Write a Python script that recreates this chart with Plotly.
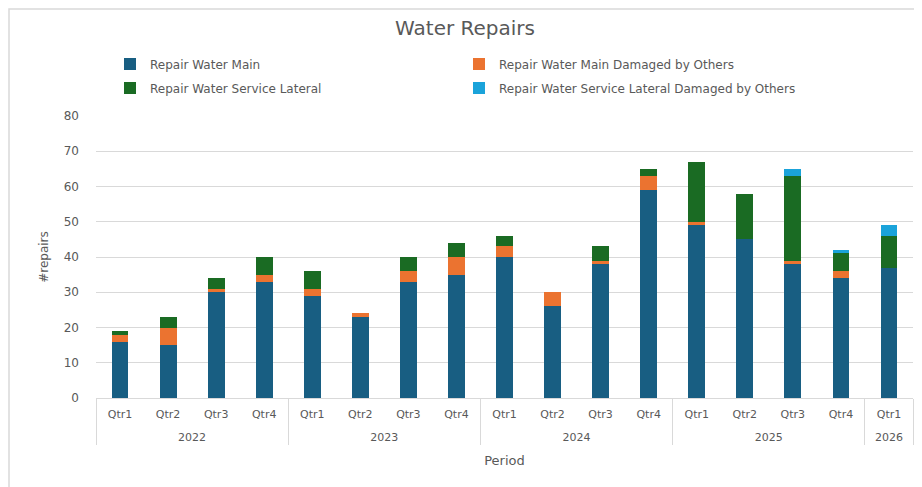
import plotly.graph_objects as go

years = ["2022"] * 4 + ["2023"] * 4 + ["2024"] * 4 + ["2025"] * 4 + ["2026"]
quarters = ["Qtr1", "Qtr2", "Qtr3", "Qtr4"] * 4 + ["Qtr1"]

water_main = [16, 15, 30, 33, 29, 23, 33, 35, 40, 26, 38, 59, 49, 45, 38, 34, 37]
main_damaged = [2, 5, 1, 2, 2, 1, 3, 5, 3, 4, 1, 4, 1, 0, 1, 2, 0]
service_lateral = [1, 3, 3, 5, 5, 0, 4, 4, 3, 0, 4, 2, 17, 13, 24, 5, 9]
lateral_damaged = [0, 0, 0, 0, 0, 0, 0, 0, 0, 0, 0, 0, 0, 0, 2, 1, 3]

series = [
    ("Repair Water Main", water_main, "#185E82", "legend"),
    ("Repair Water Main Damaged by Others", main_damaged, "#EB7330", "legend"),
    ("Repair Water Service Lateral", service_lateral, "#1A6B23", "legend2"),
    ("Repair Water Service Lateral Damaged by Others", lateral_damaged, "#1AA3DA", "legend2"),
]

# empty second line under each quarter pushes the year row further down
qlabels = [q + "<br> " for q in quarters]

fig = go.Figure()
for name, vals, col, leg in series:
    fig.add_trace(go.Bar(x=[years, qlabels], y=vals, name=name, marker_color=col,
                         marker_line_width=0, legend=leg))

grey = "#595959"
# the page body adds an 8px margin, so the figure is drawn 8px smaller
W, H = 914, 479
L, R, T, B = 88, 9, 108, 89
pw, ph = W - L - R, H - T - B

leg_common = dict(orientation="h", xref="container", yref="container",
                  x=102 / W, xanchor="left", yanchor="middle", traceorder="normal",
                  entrywidth=304, entrywidthmode="pixels",
                  font=dict(size=12, color=grey), bgcolor="rgba(0,0,0,0)")

fig.update_layout(
    barmode="stack",
    bargap=0.65,
    width=W, height=H,
    margin=dict(l=L, r=R, t=T, b=B, autoexpand=False),
    paper_bgcolor="white", plot_bgcolor="white",
    font=dict(family="DejaVu Sans", size=11, color=grey),
    title=dict(text="Water Repairs", x=0.5, xanchor="center",
               yref="container", y=1 - 20 / H, yanchor="middle",
               font=dict(size=20, color=grey)),
    legend=dict(leg_common, y=1 - 56 / H),
    legend2=dict(leg_common, y=1 - 80 / H),
    shapes=[dict(type="rect", xref="paper", yref="paper",
                 x0=(1 - L) / pw, x1=1.05, y0=-0.4, y1=(T + ph - 1) / ph,
                 line=dict(color="#D9D9D9", width=1.5))],
)
fig.update_yaxes(range=[0, 80], dtick=10, gridcolor="#D9D9D9", zeroline=False,
                 automargin=False, ticklabelstandoff=16,
                 title=dict(text="#repairs", standoff=12, font=dict(size=12)),
                 tickfont=dict(size=12))
fig.update_xaxes(showline=True, linecolor="#D9D9D9", showdividers=True,
                 dividercolor="#D9D9D9", tickfont=dict(size=11),
                 automargin=False, ticklabelstandoff=6,
                 title=dict(text="Period", font=dict(size=13), standoff=12))

fig.write_html("out.html")
